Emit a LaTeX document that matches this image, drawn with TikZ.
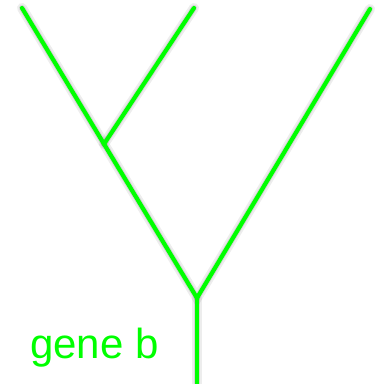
\documentclass[tikz,border=0pt]{standalone}
\usepackage{fontspec}
\setmainfont{Liberation Sans}
\definecolor{treegreen}{RGB}{0,255,0}
\begin{document}
\begin{tikzpicture}[x=1pt,y=-1pt,
  branch/.style={draw=treegreen,line width=4.2pt,line cap=round},
  shade1/.style={draw=black,opacity=0.07,line width=10pt,line cap=round},
  shade2/.style={draw=black,opacity=0.10,line width=6pt,line cap=round},
  label/.style={text=treegreen,font=\fontsize{42}{42}\selectfont,inner sep=0pt,anchor=base west}]
\useasboundingbox (0,0) rectangle (383,384);
\coordinate (tl) at (22,8);
\coordinate (tm) at (194,8);
\coordinate (tr) at (370,9);
\coordinate (j1) at (104,144);
\coordinate (j0) at (197,298);
\coordinate (bot) at (197,390);
\begin{scope}[shift={(-2,3)}]
  \draw[shade1] (tl) -- (j1) -- (j0) -- (tr);
  \draw[shade1] (j1) -- (tm);
  \draw[shade1] (j0) -- (bot);
  \draw[shade2] (tl) -- (j1) -- (j0) -- (tr);
  \draw[shade2] (j1) -- (tm);
  \draw[shade2] (j0) -- (bot);
\end{scope}
\draw[branch] (tl) -- (j1) -- (j0) -- (tr);
\draw[branch] (j1) -- (tm);
\draw[branch] (j0) -- (bot);
\node[label] (g) at (30,358) {gene b};
\end{tikzpicture}
\end{document}
